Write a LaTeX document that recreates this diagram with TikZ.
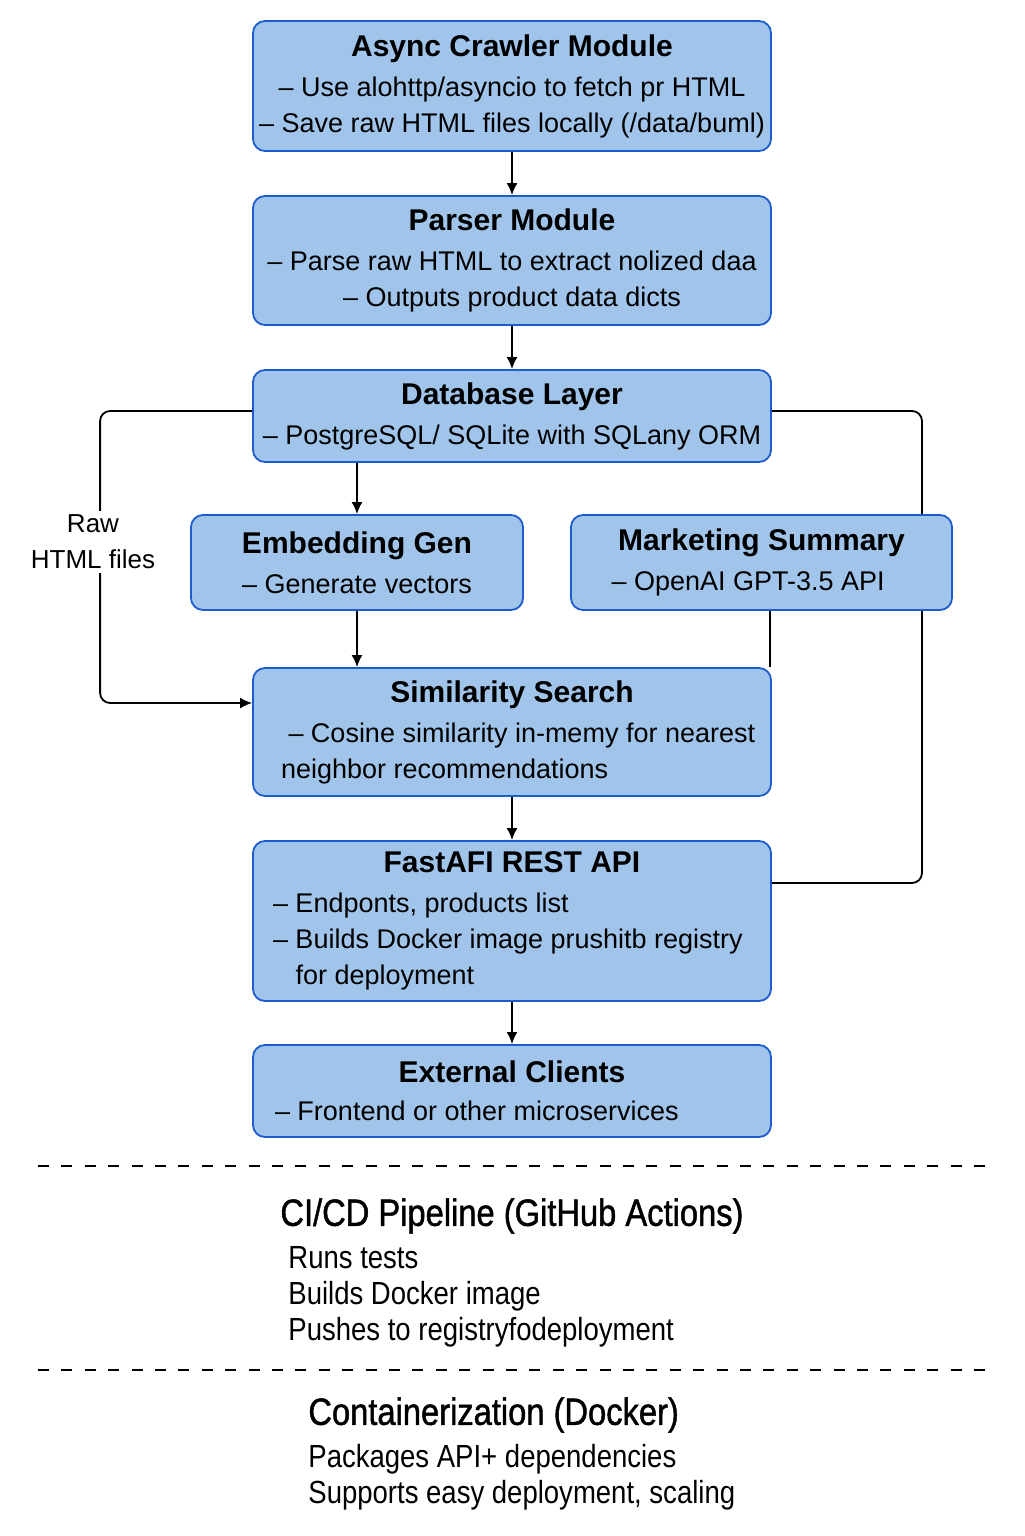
\documentclass[tikz,border=0pt]{standalone}
\usepackage{fontspec}
\setmainfont{Liberation Sans}
\newfontfamily\narrowfont[FakeStretch=0.86]{Liberation Sans}
\newfontfamily\headfont[FakeStretch=0.86,FakeBold=1.2]{Liberation Sans}
\usetikzlibrary{arrows.meta,positioning}
\definecolor{boxfill}{RGB}{161,197,234}
\definecolor{boxline}{RGB}{28,92,206}
\newcommand{\ttl}[1]{{\fontsize{15}{19}\selectfont\bfseries #1}}

\begin{document}
\begin{tikzpicture}[x=0.5pt,y=-0.5pt,
  mod/.style={draw=boxline, fill=boxfill, line width=0.9pt, rounded corners=6pt,
              align=center, minimum width=259pt, inner sep=0pt,
              font=\fontsize{13.5}{18}\selectfont},
  arr/.style={-{Latex[length=6pt,width=5.5pt]}, line width=0.9pt},
  link/.style={line width=0.9pt, rounded corners=5pt},
  lbl/.style={align=center, fill=white, inner sep=2pt,
              font=\fontsize{13}{18}\selectfont},
  sechead/.style={anchor=west, inner sep=0pt,
                  font=\headfont\fontsize{19}{22}\selectfont},
  seclist/.style={anchor=west, align=left, inner sep=0pt,
                  font=\narrowfont\fontsize{16}{18}\selectfont},
  sep/.style={line width=0.6pt, dash pattern=on 5.5pt off 6.2pt}
]
\fill[white] (0,0) rectangle (1024,1536);
\useasboundingbox (0,0) rectangle (1024,1536);

% main pipeline
\node[mod, minimum height=65pt] (crawl) at (512,86) {
  \ttl{Async Crawler Module}\\[2pt]
  – Use alohttp/asyncio to fetch pr HTML\\
  – Save raw HTML files locally (/data/buml)};
\node[mod, minimum height=64.5pt] (parse) at (512,260.5) {
  \ttl{Parser Module}\\[2pt]
  – Parse raw HTML to extract nolized daa\\
  – Outputs product data dicts};
\node[mod, minimum height=46pt] (db) at (512,416) {
  \ttl{Database Layer}\\[2pt]
  – PostgreSQL/ SQLite with SQLany ORM};
\node[mod, minimum width=166pt, minimum height=47.5pt] (embed) at (357,562.5) {
  \ttl{Embedding Gen}\\[2pt]
  – Generate vectors};
\node[mod, minimum height=64pt] (simil) at (512,732) {
  \ttl{Similarity Search}\\[2pt]
  \makebox[231pt][l]{\ – Cosine similarity in-memy for nearest}\\
  \makebox[231pt][l]{neighbor recommendations}};
\node[mod, minimum height=80pt] (api) at (512,921) {
  \ttl{FastAFI REST API}\\[2pt]
  \makebox[239pt][l]{– Endponts, products list}\\
  \makebox[239pt][l]{– Builds Docker image prushitb registry}\\
  \makebox[239pt][l]{\hphantom{– }for deployment}};
\node[mod, minimum height=46pt] (clients) at (512,1091) {
  \ttl{External Clients}\\[1pt]
  \makebox[237pt][l]{– Frontend or other microservices}};

% feedback line behind the summary box
\coordinate (rbus) at (922,883);
\draw[link] ([yshift=2.5pt]db.east) -| (rbus) -- ([yshift=19pt]api.east);

\node[mod, minimum width=190.5pt, minimum height=47.5pt] (market) at (761.5,562.5) {
  \ttl{Marketing Summary}\\[2pt]
  \makebox[150pt][l]{– OpenAI GPT-3.5 API}};

\draw[arr] (crawl) -- (parse);
\draw[arr] (parse) -- (db);
\draw[arr] (db.south -| embed.north) -- (embed.north);
\draw[arr] (embed) -- (embed.south |- simil.north);
\draw[arr] (simil) -- (api);
\draw[arr] (api) -- (clients);
\draw[link] ([xshift=-1pt]simil.north east |- market.south) -- ([xshift=-1pt]simil.north east);
\draw[link, arr] ([yshift=2.5pt]db.west) -- ++(-152,0) |- ([yshift=14.5pt]simil.west);
\node[lbl] (raw) at (93,542) {Raw\\HTML files};

% lower notes
\draw[sep] (38,1166) -- (985,1166);
\node[sechead] (cicd) at (280,1216) {CI/CD Pipeline (GitHub Actions)};
\node[seclist] (cicdsteps) at (288,1297) {Runs tests\\Builds Docker image\\Pushes to registryfodeployment};
\draw[sep] (38,1370) -- (985,1370);
\node[sechead] (dock) at (308,1415) {Containerization (Docker)};
\node[seclist] (docksteps) at (308,1477) {Packages API+ dependencies\\Supports easy deployment, scaling};
\end{tikzpicture}
\end{document}
